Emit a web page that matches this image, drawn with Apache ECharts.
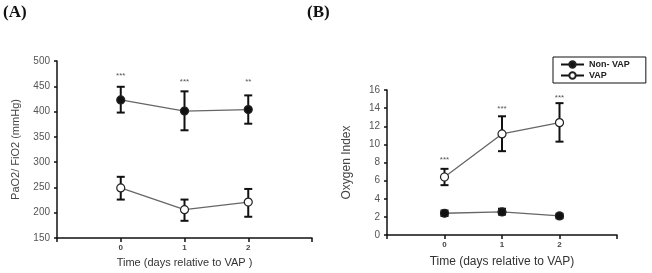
<!DOCTYPE html>
<html><head><meta charset="utf-8">
<script src="https://cdn.jsdelivr.net/npm/echarts@6/dist/echarts.min.js"></script>
<style>html,body{margin:0;padding:0;background:#fff}#c{width:652px;height:273px}</style>
</head><body><div id="c"></div>
<script>
// ---- data ----
const days = [0, 1, 2];
const xTickLabels = ['0', '1', '2'];
// Panel A: PaO2/FiO2
const aNonVap = [423, 401, 404];
const aNonVapLow = [398, 363, 376];
const aNonVapHigh = [449, 440, 432];
const aVap = [249, 206, 221];
const aVapLow = [226, 184, 192];
const aVapHigh = [271, 226, 247];
const aSig = ['***', '***', '**'];
const aSigY = [470, 458, 458];
// Panel B: Oxygen Index
const bNonVap = [2.4, 2.55, 2.1];
const bNonVapLow = [2.1, 2.25, 1.85];
const bNonVapHigh = [2.7, 2.9, 2.35];
const bVap = [6.4, 11.15, 12.4];
const bVapLow = [5.5, 9.25, 10.3];
const bVapHigh = [7.3, 13.1, 14.55];
const bSig = ['***', '***', '***'];
const bSigY = [8.3, 13.9, 15.1];

const chart = echarts.init(document.getElementById('c'));
const font = 'Arial, "Liberation Sans", sans-serif';

function errData(low, high) { return days.map((d, i) => [d, low[i], high[i]]); }
function errSeries(xi, yi, low, high, name) {
  return {
    type: 'custom', name: name, xAxisIndex: xi, yAxisIndex: yi, z: 2,
    data: errData(low, high),
    renderItem: function (params, api) {
      const x = api.value(0);
      const lo = api.coord([x, api.value(1)]);
      const hi = api.coord([x, api.value(2)]);
      const hw = 4;
      const st = { stroke: '#111', lineWidth: 2, fill: null };
      return { type: 'group', children: [
        { type: 'line', shape: { x1: lo[0], y1: lo[1], x2: hi[0], y2: hi[1] }, style: st },
        { type: 'line', shape: { x1: lo[0] - hw, y1: lo[1], x2: lo[0] + hw, y2: lo[1] }, style: st },
        { type: 'line', shape: { x1: hi[0] - hw, y1: hi[1], x2: hi[0] + hw, y2: hi[1] }, style: st }
      ]};
    }
  };
}
function sigSeries(xi, yi, labels, ys) {
  return {
    type: 'custom', xAxisIndex: xi, yAxisIndex: yi, z: 5, silent: true,
    data: days.map((d, i) => [d, ys[i], labels[i]]),
    renderItem: function (params, api) {
      const p = api.coord([api.value(0), api.value(1)]);
      return { type: 'text', x: p[0], y: p[1],
        style: { text: labels[params.dataIndex], fill: '#555', font: '8px ' + font, align: 'center', verticalAlign: 'middle' } };
    }
  };
}
function lineSeries(xi, yi, name, vals, filled) {
  return {
    type: 'line', name: name, xAxisIndex: xi, yAxisIndex: yi, z: 4,
    data: days.map((d, i) => [d, vals[i]]),
    symbol: 'circle', symbolSize: 8,
    lineStyle: { color: '#666', width: 1.3 },
    itemStyle: { color: filled ? '#111' : '#fff', borderColor: '#222', borderWidth: 1.2 },
    emphasis: { disabled: true }
  };
}
const xAxisBase = {
  type: 'value', min: -1, max: 3, interval: 1,
  axisLine: { onZero: false, lineStyle: { color: '#111', width: 1.5 } },
  axisTick: { lineStyle: { color: '#111', width: 1.5 }, length: 4 },
  splitLine: { show: false },
  axisLabel: { color: '#444', fontSize: 8, fontWeight: 'bold', fontFamily: font, margin: 6,
    showMinLabel: true, showMaxLabel: true,
    formatter: v => { const i = days.indexOf(v); return i >= 0 ? xTickLabels[i] : ''; } },
  nameLocation: 'middle', nameTextStyle: { color: '#333', fontFamily: font }
};
const yAxisBase = {
  type: 'value',
  axisLine: { show: true, onZero: false, lineStyle: { color: '#111', width: 1.5 } },
  axisTick: { show: true, lineStyle: { color: '#111', width: 1.5 }, length: 3 },
  splitLine: { show: false },
  axisLabel: { color: '#555', fontSize: 10, fontFamily: font, margin: 7 },
  nameLocation: 'middle', nameRotate: 90, nameTextStyle: { color: '#444', fontFamily: font, fontSize: 11 }
};

chart.setOption({
  animation: false,
  grid: [
    { left: 57, right: 340, top: 61, bottom: 34 },
    { left: 387, right: 35, top: 90, bottom: 33 }
  ],
  xAxis: [
    Object.assign({}, xAxisBase, { gridIndex: 0, name: 'Time (days relative to VAP )', nameGap: 19,
      nameTextStyle: { color: '#333', fontFamily: font, fontSize: 11 } }),
    Object.assign({}, xAxisBase, { gridIndex: 1, name: 'Time (days relative to VAP)', nameGap: 21,
      nameTextStyle: { color: '#333', fontFamily: font, fontSize: 12 } })
  ],
  yAxis: [
    Object.assign({}, yAxisBase, { gridIndex: 0, min: 150, max: 500, interval: 50, name: 'PaO2/ FiO2 (mmHg)', nameGap: 36 }),
    Object.assign({}, yAxisBase, { gridIndex: 1, min: 0, max: 16, interval: 2, name: 'Oxygen Index', nameGap: 34,
      nameTextStyle: { color: '#444', fontFamily: font, fontSize: 12 } })
  ],
  legend: {
    data: ['Non- VAP', 'VAP'], orient: 'vertical', left: 553, top: 57,
    borderColor: '#111', borderWidth: 1, padding: [3, 16, 3, 7], itemGap: 2,
    itemWidth: 23, itemHeight: 8,
    lineStyle: { color: '#111' },
    textStyle: { fontSize: 9, fontWeight: 'bold', color: '#222', fontFamily: font }
  },
  graphic: [
    { type: 'text', left: 3, top: 4, style: { text: '(A)', font: 'bold 17px "Liberation Serif", serif', fill: '#111' } },
    { type: 'text', left: 307, top: 4, style: { text: '(B)', font: 'bold 17px "Liberation Serif", serif', fill: '#111' } }
  ],
  series: [
    errSeries(0, 0, aNonVapLow, aNonVapHigh, 'errA1'),
    errSeries(0, 0, aVapLow, aVapHigh, 'errA2'),
    lineSeries(0, 0, 'Non- VAP', aNonVap, true),
    lineSeries(0, 0, 'VAP', aVap, false),
    sigSeries(0, 0, aSig, aSigY),
    errSeries(1, 1, bNonVapLow, bNonVapHigh, 'errB1'),
    errSeries(1, 1, bVapLow, bVapHigh, 'errB2'),
    lineSeries(1, 1, 'Non- VAP', bNonVap, true),
    lineSeries(1, 1, 'VAP', bVap, false),
    sigSeries(1, 1, bSig, bSigY)
  ]
});
</script></body></html>
